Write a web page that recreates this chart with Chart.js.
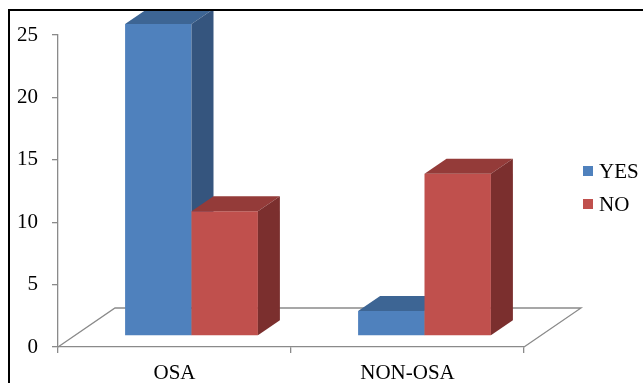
<!DOCTYPE html>
<html>
<head>
<meta charset="utf-8">
<title>OSA</title>
<script src="https://cdn.jsdelivr.net/npm/chart.js@4.4.1/dist/chart.umd.min.js"></script>
<style>
  html, body { margin: 0; padding: 0; background: #fff; }
  #wrap { width: 643px; height: 383px; position: relative; }
</style>
</head>
<body>
<div id="wrap"><canvas id="osaChart"></canvas></div>
<script>
const categories = ["OSA", "NON-OSA"];
const seriesLabels = ["YES", "NO"];
const yesValues = [25, 2];
const noValues = [10, 13];
const yTicks = [0, 5, 10, 15, 20, 25];

const FONT = "'Liberation Serif', 'Times New Roman', serif";
const AXIS_GREY = "#8a8a8a";
// front, top, side colours for each series
const faceColors = [
  { front: "#4f81bd", top: "#3d6594", side: "#35557e" },
  { front: "#c0504d", top: "#943b39", side: "#7b2f2e" },
];
const BAR_SHIFT = { x: 17, y: -11 };
const BAR_DEPTH = { x: 22, y: -15 };
const FLOOR_DEPTH = { x: 57, y: -39 };

function poly(ctx, pts, color) {
  ctx.fillStyle = color;
  ctx.beginPath();
  ctx.moveTo(pts[0][0], pts[0][1]);
  for (let k = 1; k < pts.length; k++) {
    ctx.lineTo(pts[k][0], pts[k][1]);
  }
  ctx.closePath();
  ctx.fill();
}

const bars3d = {
  id: "bars3d",
  beforeDatasetsDraw(chart) {
    const ctx = chart.ctx;
    const area = chart.chartArea;

    ctx.save();
    // floor
    ctx.strokeStyle = AXIS_GREY;
    ctx.lineWidth = 1.3;
    ctx.beginPath();
    ctx.moveTo(area.left, area.bottom);
    ctx.lineTo(area.left + FLOOR_DEPTH.x, area.bottom + FLOOR_DEPTH.y);
    ctx.lineTo(area.right + FLOOR_DEPTH.x, area.bottom + FLOOR_DEPTH.y);
    ctx.lineTo(area.right, area.bottom);
    ctx.stroke();

    // boxes, category by category so the later series covers the side of the earlier one
    for (let i = 0; i < categories.length; i++) {
      chart.data.datasets.forEach(function (ds, d) {
        const bar = chart.getDatasetMeta(d).data[i];
        const p = bar.getProps(["x", "y", "base", "width"], true);
        const c = faceColors[d];
        const x0 = p.x - p.width / 2 + BAR_SHIFT.x;
        const x1 = p.x + p.width / 2 + BAR_SHIFT.x;
        const yt = p.y + BAR_SHIFT.y;
        const yb = p.base + BAR_SHIFT.y;
        const dx = BAR_DEPTH.x;
        const dy = BAR_DEPTH.y;

        poly(ctx, [[x0, yt], [x1, yt], [x1, yb], [x0, yb]], c.front);
        poly(ctx, [[x0, yt], [x0 + dx, yt + dy], [x1 + dx, yt + dy], [x1, yt]], c.top);
        poly(ctx, [[x1, yt], [x1 + dx, yt + dy], [x1 + dx, yb + dy], [x1, yb]], c.side);
      });
    }
    ctx.restore();
    return false;
  },
  afterDraw(chart) {
    const ctx = chart.ctx;
    ctx.save();

    // legend
    ctx.font = "21px " + FONT;
    ctx.textBaseline = "middle";
    ctx.textAlign = "left";
    chart.data.datasets.forEach(function (ds, d) {
      const cy = 171 + d * 33;
      ctx.fillStyle = faceColors[d].front;
      ctx.fillRect(583, cy - 5, 10, 10);
      ctx.fillStyle = "#000";
      ctx.fillText(ds.label, 599, cy + 1);
    });

    // outer frame
    ctx.strokeStyle = "#000";
    ctx.lineWidth = 2;
    ctx.strokeRect(9, 10, 800, 600);
    ctx.restore();
  },
};

const ctx = document.getElementById("osaChart").getContext("2d");
new Chart(ctx, {
  type: "bar",
  data: {
    labels: categories,
    datasets: [
      { label: seriesLabels[0], data: yesValues, backgroundColor: faceColors[0].front },
      { label: seriesLabels[1], data: noValues, backgroundColor: faceColors[1].front },
    ],
  },
  options: {
    responsive: true,
    maintainAspectRatio: false,
    animation: false,
    layout: {
      padding: { top: 35, left: 0, right: 119, bottom: 0 },
    },
    datasets: {
      bar: {
        categoryPercentage: 0.57,
        barPercentage: 1.0,
      },
    },
    plugins: {
      legend: { display: false },
      tooltip: { enabled: false },
    },
    scales: {
      x: {
        afterFit(scale) {
          scale.height = 36;
        },
        grid: {
          drawOnChartArea: false,
          drawTicks: true,
          tickLength: 6,
          color: AXIS_GREY,
          lineWidth: 1.3,
        },
        border: { display: true, color: AXIS_GREY, width: 1.3 },
        ticks: {
          color: "#000",
          padding: 8,
          font: { family: FONT, size: 21 },
        },
      },
      y: {
        min: 0,
        max: 25,
        afterFit(scale) {
          scale.width = 58;
        },
        afterBuildTicks(scale) {
          scale.ticks = yTicks.map(function (v) {
            return { value: v };
          });
        },
        grid: {
          drawOnChartArea: false,
          drawTicks: true,
          tickLength: 6,
          color: AXIS_GREY,
          lineWidth: 1.3,
        },
        border: { display: true, color: AXIS_GREY, width: 1.3 },
        ticks: {
          color: "#000",
          padding: 14,
          font: { family: FONT, size: 21 },
        },
      },
    },
  },
  plugins: [bars3d],
});
</script>
</body>
</html>
